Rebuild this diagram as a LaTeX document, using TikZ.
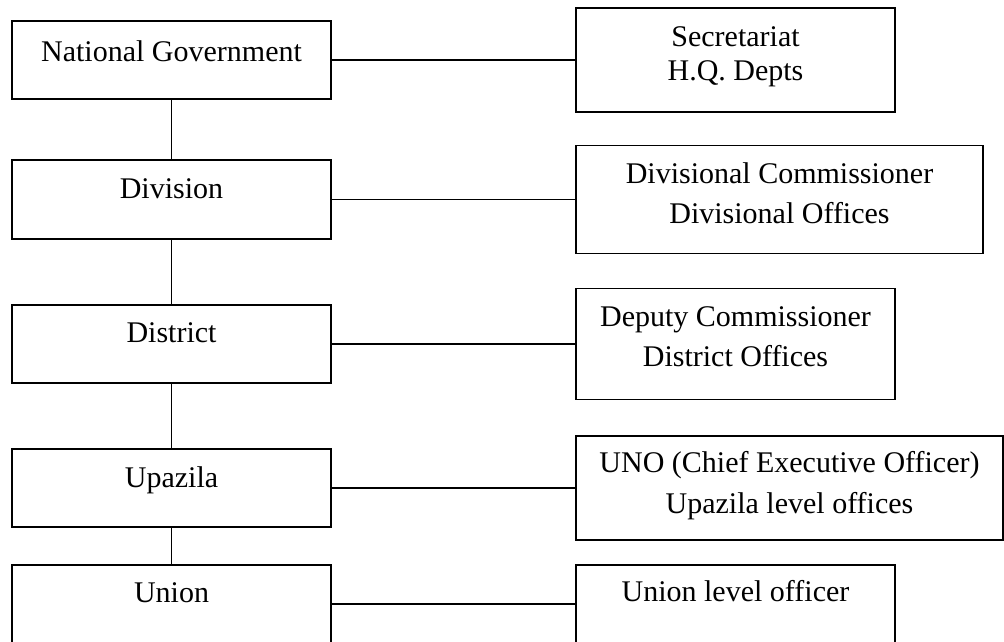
\documentclass[tikz,border=0pt]{standalone}
\usepackage{fontspec}
\setmainfont{Liberation Serif}
\begin{document}
\begin{tikzpicture}[x=1pt,y=-1pt,
  box/.style={draw,line width=1.9pt,rectangle,inner sep=0pt,outer sep=0pt},
  lbl/.style={anchor=base,inner sep=0pt,font=\fontsize{30}{36}\selectfont},
  conn/.style={line width=1.9pt}]
\useasboundingbox (0,0) rectangle (1004,641);
% left column
\node[box,minimum width=319pt,minimum height=78pt] (ng) at (171.5,60) {};
\node[box,minimum width=319pt,minimum height=79pt] (div) at (171.5,199.5) {};
\node[box,minimum width=319pt,minimum height=78pt] (dist) at (171.5,344) {};
\node[box,minimum width=319pt,minimum height=78pt] (upz) at (171.5,488) {};
\node[box,minimum width=319pt,minimum height=78pt] (uni) at (171.5,604) {};
% right column
\node[box,minimum width=319pt,minimum height=104pt] (sec) at (735.5,60) {};
\node[box,minimum width=407pt,minimum height=108pt] (dc) at (779.5,199.5) {};
\node[box,minimum width=319pt,minimum height=111pt] (dep) at (735.5,344) {};
\node[box,minimum width=427pt,minimum height=104pt] (uno) at (789.5,488) {};
\node[box,minimum width=319pt,minimum height=78pt] (ulo) at (735.5,604) {};
% texts
\node[lbl] (tng) at (171.5,61) {National Government};
\node[lbl] (tdiv) at (171.5,198) {Division};
\node[lbl] (tdist) at (171.5,342) {District};
\node[lbl] (tupz) at (171.5,487) {Upazila};
\node[lbl] (tuni) at (171.5,602) {Union};
\node[lbl] (tsec1) at (735.5,46) {Secretariat};
\node[lbl] (tsec2) at (735.5,80) {H.Q. Depts};
\node[lbl] (tdc1) at (779.5,183) {Divisional Commissioner};
\node[lbl] (tdc2) at (779.5,223) {Divisional Offices};
\node[lbl] (tdep1) at (735.5,326) {Deputy Commissioner};
\node[lbl] (tdep2) at (735.5,366) {District Offices};
\node[lbl] (tuno1) at (789.5,472) {UNO (Chief Executive Officer)};
\node[lbl] (tuno2) at (789.5,513) {Upazila level offices};
\node[lbl] (tulo) at (735.5,601) {Union level officer};
% connectors
\draw[conn] (ng.south) -- (div.north);
\draw[conn] (div.south) -- (dist.north);
\draw[conn] (dist.south) -- (upz.north);
\draw[conn] (upz.south) -- (uni.north);
\draw[conn] (ng.east) -- (sec.west);
\draw[conn] (div.east) -- (dc.west);
\draw[conn] (dist.east) -- (dep.west);
\draw[conn] (upz.east) -- (uno.west);
\draw[conn] (uni.east) -- (ulo.west);
\end{tikzpicture}
\end{document}
